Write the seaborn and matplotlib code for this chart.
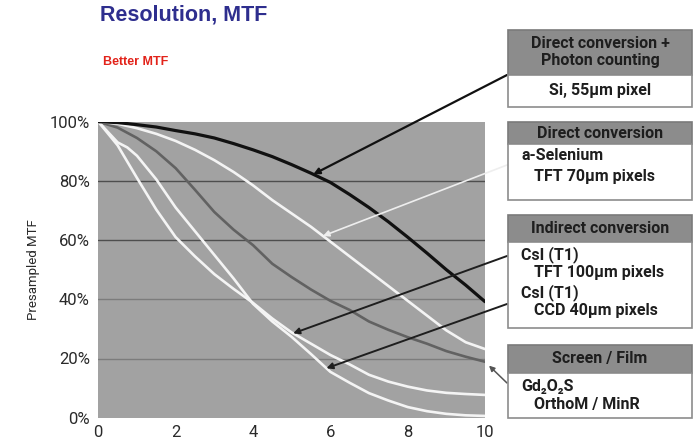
import numpy as np
import pandas as pd
import matplotlib.pyplot as plt
from matplotlib.patches import Rectangle
import seaborn as sns

W, H = 695, 442

# spatial frequency (lp/mm) and presampled MTF (%)
freq = [0, 0.5, 1, 1.5, 2, 2.5, 3, 3.5, 4, 4.5, 5, 5.5, 6, 6.5, 7, 7.5, 8, 8.5, 9, 9.5, 10]
si_55 = [100, 99.7, 99, 98.2, 97, 95.9, 94.5, 92.6, 90.5, 88.2, 85.5, 82.6, 79.5,
         75.4, 71, 66.2, 61, 55.6, 50, 44.8, 39.2]
ase_70 = [100, 99.3, 97.8, 95.9, 93.5, 90.5, 87, 83, 78.5, 73.5, 69, 64.5, 59.5,
          54.5, 49.5, 44.5, 39.5, 34.5, 29.5, 25.5, 23.2]
gos_film = [100, 98, 94.5, 90, 84.3, 77, 69.5, 63.5, 58.3, 52, 47.5, 43.3, 39.5,
            36.4, 32.5, 29.7, 27.2, 25, 22.5, 20.6, 18.9]
csi_tft = [100, 92, 81, 70.3, 61, 54.5, 48.5, 43.5, 38.8, 33.5, 28.8, 25, 21.2,
           18, 14.5, 12.2, 10.5, 9.2, 8.4, 8, 7.7]
freq_ccd = [0, 0.5, 0.75, 1, 1.5, 2, 2.5, 3, 3.5, 4, 4.5, 5, 5.5, 6, 6.5, 7, 7.5, 8, 8.5, 9, 9.5, 10]
csi_ccd = [100, 93, 91.3, 88.5, 80.5, 71, 63, 55, 47, 38.5, 32.5, 27.3, 21.5, 15.5,
           11.8, 8.3, 5.8, 3.6, 2.2, 1.3, 0.8, 0.6]

y_ticks = [0, 20, 40, 60, 80, 100]
x_ticks = [0, 2, 4, 6, 8, 10]

sns.set_style("white")
NARROW = ['Roboto', 'DejaVu Sans']
ARIAL = ['Liberation Sans', 'DejaVu Sans']
plt.rcParams['font.family'] = NARROW


def fx(px):
    return px / W


def fy(py):
    return 1 - py / H


frames = [
    pd.DataFrame({"freq": freq, "mtf": si_55, "detector": "si"}),
    pd.DataFrame({"freq": freq, "mtf": ase_70, "detector": "ase"}),
    pd.DataFrame({"freq": freq, "mtf": gos_film, "detector": "film"}),
    pd.DataFrame({"freq": freq, "mtf": csi_tft, "detector": "tft"}),
    pd.DataFrame({"freq": freq_ccd, "mtf": csi_ccd, "detector": "ccd"}),
]
df = pd.concat(frames, ignore_index=True)
palette = {"si": "#111111", "ase": "#f4f4f4", "film": "#626262",
           "tft": "#f4f4f4", "ccd": "#f4f4f4"}

fig = plt.figure(figsize=(W / 100, H / 100), dpi=100)
ax = fig.add_axes([fx(98.3), fy(417.7), fx(485) - fx(98.3), fy(121.7) - fy(417.7)])
ax.set_facecolor("#a2a2a2")

# gridlines (upper two darker, as in the original)
for lvl, col in zip([80, 60, 40, 20], ["#4e4e4e", "#4e4e4e", "#7c7c7c", "#7c7c7c"]):
    ax.axhline(lvl, color=col, lw=1.0, zorder=1)

hue_order = ["film", "ase", "tft", "ccd", "si"]
sns.lineplot(data=df, x="freq", y="mtf", hue="detector", hue_order=hue_order,
             palette=palette, sort=False, estimator=None, linewidth=1.9,
             legend=False, ax=ax, zorder=3)
ax.lines[-1].set_linewidth(2.3)

ax.set_xlim(0, 10)
ax.set_ylim(0, 100)
ax.set_xticks(x_ticks)
ax.set_yticks(y_ticks)
ax.set_yticklabels([f"{v}%" for v in y_ticks])
ax.set_xlabel("")
ax.set_ylabel("")
for s in ax.spines.values():
    s.set_visible(False)
ax.tick_params(axis="y", length=3, width=1, color="#333333", pad=3,
               labelsize=12, labelcolor="#2a2a2a")
ax.tick_params(axis="x", length=0, pad=5, labelsize=12, labelcolor="#2a2a2a")

fig.text(fx(33), fy(270), "Presampled MTF", rotation=90, ha="center", va="center",
         fontsize=9.5, color="#2a2a2a")

# titles
fig.text(fx(100), fy(15), "Resolution, MTF", ha="left", va="center", fontsize=15.5,
         fontweight="bold", color="#2e2e8e", family=ARIAL)
fig.text(fx(103), fy(62), "Better MTF", ha="left", va="center", fontsize=9,
         fontweight="bold", color="#e2231a", family=ARIAL)

# legend boxes on the right
BOX_L, BOX_R = 508, 692
boxes = [
    (30, 75, 107, ["Direct conversion +", "Photon counting"], [43, 61]),
    (122, 144, 200, ["Direct conversion"], [133]),
    (215, 242, 328, ["Indirect conversion"], [228]),
    (345, 373, 418, ["Screen / Film"], [358]),
]
for top, mid, bot, heads, head_y in boxes:
    fig.patches.append(Rectangle((fx(BOX_L), fy(mid)), fx(BOX_R) - fx(BOX_L), fy(top) - fy(mid),
                                 transform=fig.transFigure, facecolor="#8c8c8c",
                                 edgecolor="#7a7a7a", lw=1.2))
    fig.patches.append(Rectangle((fx(BOX_L), fy(bot)), fx(BOX_R) - fx(BOX_L), fy(mid) - fy(bot),
                                 transform=fig.transFigure, facecolor="white",
                                 edgecolor="#8c8c8c", lw=1.2))
    for txt, ty in zip(heads, head_y):
        fig.text(fx((BOX_L + BOX_R) / 2), fy(ty), txt, ha="center", va="center",
                 fontsize=11.5, fontweight="bold", color="#1e1e1e")

body = [
    ((BOX_L + BOX_R) / 2, 91, "Si, 55μm pixel", "center"),
    (521, 155, "a-Selenium", "left"),
    (534, 177, "TFT 70μm pixels", "left"),
    (521, 255, "CsI (T1)", "left"),
    (534, 273, "TFT 100μm pixels", "left"),
    (521, 293, "CsI (T1)", "left"),
    (534, 311, "CCD 40μm pixels", "left"),
    (521, 387, "Gd₂O₂S", "left"),
    (534, 404, "OrthoM / MinR", "left"),
]
for px, py, txt, ha in body:
    fig.text(fx(px), fy(py), txt, ha=ha, va="center", fontsize=11.5,
             fontweight="bold", color="#1e1e1e")

# arrows from the boxes to the curves
arrows = [
    (5.56, freq, si_55, 75, "#111111", 1.6),
    (5.81, freq, ase_70, 165, "#eeeeee", 1.2),
    (5.04, freq, csi_tft, 256, "#1e1e1e", 1.4),
    (5.90, freq_ccd, csi_ccd, 304, "#1e1e1e", 1.4),
]
for tx, xs, ys, tail_y, col, lw in arrows:
    ty = np.interp(tx, xs, ys)
    ax.annotate("", xy=(tx, ty), xytext=(fx(507), fy(tail_y)), textcoords="figure fraction",
                arrowprops=dict(arrowstyle="-|>", color=col, lw=lw, mutation_scale=9,
                                shrinkA=0, shrinkB=0), annotation_clip=False, zorder=5)
ax.annotate("", xy=(freq[-1], gos_film[-1]), xytext=(fx(507), fy(383)),
            textcoords="figure fraction",
            arrowprops=dict(arrowstyle="-|>", color="#555555", lw=1.1, mutation_scale=8,
                            shrinkA=0, shrinkB=4), annotation_clip=False, zorder=5)

fig.savefig("out.png", dpi=100)
